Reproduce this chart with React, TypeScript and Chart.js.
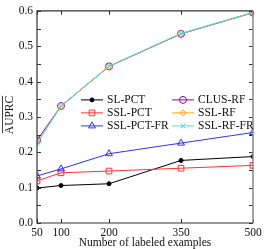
import React, { useEffect, useRef } from "react";
import { Chart, registerables } from "chart.js";
import { drawPoint } from "chart.js/helpers";

Chart.register(...registerables);

const xValues = [50, 100, 200, 350, 500];
const xTickLabels = ["50", "100", "200", "350", "500"];
const slPct = [0.099, 0.106, 0.111, 0.177, 0.188];
const sslPct = [0.119, 0.142, 0.147, 0.155, 0.163];
const sslPctFr = [0.133, 0.153, 0.196, 0.226, 0.256];
const clusRf = [0.234, 0.331, 0.443, 0.535, 0.595];
const sslRf = [0.228, 0.330, 0.443, 0.536, 0.595];
const sslRfFr = [0.225, 0.331, 0.444, 0.536, 0.596];
const seriesNames = ["SL-PCT", "SSL-PCT", "SSL-PCT-FR", "CLUS-RF", "SSL-RF", "SSL-RF-FR"];

const FONT = "Liberation Serif";
const FS = 11.5;

export default function App() {
  const ref = useRef<HTMLCanvasElement | null>(null);
  useEffect(() => {
    document.body.style.margin = "0";
    let chart: Chart | null = null;
    let cancelled = false;
    const build = () => {
      if (cancelled) return;
      const canvas = ref.current!;
      const mk = (label: string, data: number[], color: string, style: string, radius: number, order: number, fill = false) => ({
        label,
        data: data.map((v, i) => ({ x: xValues[i], y: v })),
        borderColor: color,
        backgroundColor: fill ? color : "transparent",
        pointBorderColor: color,
        pointBackgroundColor: fill ? color : "transparent",
        pointStyle: style,
        pointRadius: radius,
        pointBorderWidth: 1,
        borderWidth: 1,
        order,
      });
      const datasets = [
        mk(seriesNames[0], slPct, "#000000", "circle", 2, 6, true),
        mk(seriesNames[1], sslPct, "#ff3030", "rect", 4, 5),
        mk(seriesNames[2], sslPctFr, "#3030ff", "triangle", 4, 4),
        mk(seriesNames[3], clusRf, "#990099", "circle", 3.5, 3),
        mk(seriesNames[4], sslRf, "#ffa500", "rectRot", 3, 2),
        mk(seriesNames[5], sslRfFr, "#40e0e0", "crossRot", 3.5, 1),
      ];

      const decor = {
        id: "decor",
        afterDatasetsDraw(ch: any) {
          const ctx = ch.ctx as CanvasRenderingContext2D;
          const a = ch.chartArea;
          const xs = ch.scales.x;
          const ys = ch.scales.y;
          ctx.save();
          ctx.strokeStyle = "#333";
          ctx.lineWidth = 1;
          const tl = 4;
          for (let v = 0; v <= 0.6001; v += 0.05) {
            const y = Math.round(ys.getPixelForValue(v)) + 0.5;
            ctx.beginPath();
            ctx.moveTo(a.left, y);
            ctx.lineTo(a.left + tl, y);
            ctx.moveTo(a.right, y);
            ctx.lineTo(a.right - tl, y);
            ctx.stroke();
          }
          for (const v of xValues) {
            const x = Math.round(xs.getPixelForValue(v)) + 0.5;
            ctx.beginPath();
            ctx.moveTo(x, a.bottom);
            ctx.lineTo(x, a.bottom - tl);
            ctx.moveTo(x, a.top);
            ctx.lineTo(x, a.top + tl);
            ctx.stroke();
          }
          ctx.strokeStyle = "#333";
          ctx.lineWidth = 1.2;
          ctx.beginPath();
          ctx.moveTo(a.right, a.top);
          ctx.lineTo(a.left, a.top);
          ctx.lineTo(a.left, a.bottom);
          ctx.lineTo(a.right, a.bottom);
          ctx.stroke();
          ctx.strokeStyle = "#888";
          ctx.lineWidth = 1.5;
          ctx.beginPath();
          ctx.moveTo(a.right, a.top);
          ctx.lineTo(a.right, a.bottom);
          ctx.stroke();

          const rows = [a.top + 89, a.top + 102, a.top + 115];
          const cols = [a.left + 44, a.left + 135];
          ctx.font = FS + "px '" + FONT + "'";
          ctx.textBaseline = "middle";
          ctx.textAlign = "left";
          ch.data.datasets.forEach((ds: any, i: number) => {
            const c = Math.floor(i / 3);
            const r = i % 3;
            const x0 = cols[c];
            const y = rows[r];
            ctx.strokeStyle = ds.borderColor;
            ctx.lineWidth = 1;
            ctx.beginPath();
            ctx.moveTo(x0, y);
            ctx.lineTo(x0 + 22, y);
            ctx.stroke();
            ctx.fillStyle = ds.pointBackgroundColor;
            ctx.strokeStyle = ds.pointBorderColor;
            drawPoint(ctx, { pointStyle: ds.pointStyle, radius: ds.pointRadius, rotation: 0, borderWidth: 1 } as any, x0 + 11, y);
            ctx.fillStyle = "#111";
            ctx.fillText(ds.label, x0 + 26, y + 0.5);
          });

          ctx.fillStyle = "#111";
          ctx.textAlign = "center";
          ctx.fillText("Number of labeled examples", (a.left + a.right) / 2, 242.5);
          ctx.translate(10, 115);
          ctx.rotate(-Math.PI / 2);
          ctx.fillText("AUPRC", 0, 0);
          const w = ctx.measureText("AUPRC").width;
          ctx.strokeStyle = "#111";
          ctx.lineWidth = 0.8;
          ctx.beginPath();
          ctx.moveTo(-w / 2 + 1, -7.5);
          ctx.lineTo(w / 2, -7.5);
          ctx.stroke();
          ctx.restore();
        },
      };

      chart = new Chart(canvas, {
        type: "line",
        data: { datasets: datasets as any },
        options: {
          animation: false,
          responsive: false,
          maintainAspectRatio: false,
          layout: { padding: { top: 7, right: 12, left: 0, bottom: 0 } },
          plugins: { legend: { display: false }, tooltip: { enabled: false } },
          scales: {
            x: {
              type: "linear",
              min: 50,
              max: 500,
              grid: { display: false, drawTicks: false },
              border: { display: false },
              afterBuildTicks: (s: any) => {
                s.ticks = xValues.map((v) => ({ value: v }));
              },
              afterFit: (s: any) => {
                s.height = 26;
              },
              ticks: {
                padding: 3,
                autoSkip: false,
                maxRotation: 0,
                color: "#111",
                font: { family: FONT, size: FS },
                callback: (v: any) => {
                  const i = xValues.indexOf(Number(v));
                  return i >= 0 ? xTickLabels[i] : "";
                },
              },
            },
            y: {
              min: 0,
              max: 0.6,
              grid: { display: false, drawTicks: false },
              border: { display: false },
              afterFit: (s: any) => {
                s.width = 37;
              },
              ticks: {
                stepSize: 0.1,
                padding: 4,
                color: "#111",
                font: { family: FONT, size: FS },
                callback: (v: any) => Number(v).toFixed(1),
              },
            },
          },
        },
        plugins: [decor],
      });
    };
    const fonts: any = (document as any).fonts;
    if (fonts && fonts.load) {
      fonts.load(FS + "px '" + FONT + "'").then(build, build);
    } else {
      build();
    }
    return () => {
      cancelled = true;
      if (chart) chart.destroy();
    };
  }, []);
  return (
    <div style={{ width: 265, height: 249 }}>
      <span style={{ fontFamily: FONT, position: "absolute", left: -1000, top: 0 }}>.</span>
      <canvas ref={ref} width={265} height={249} style={{ display: "block" }} />
    </div>
  );
}
